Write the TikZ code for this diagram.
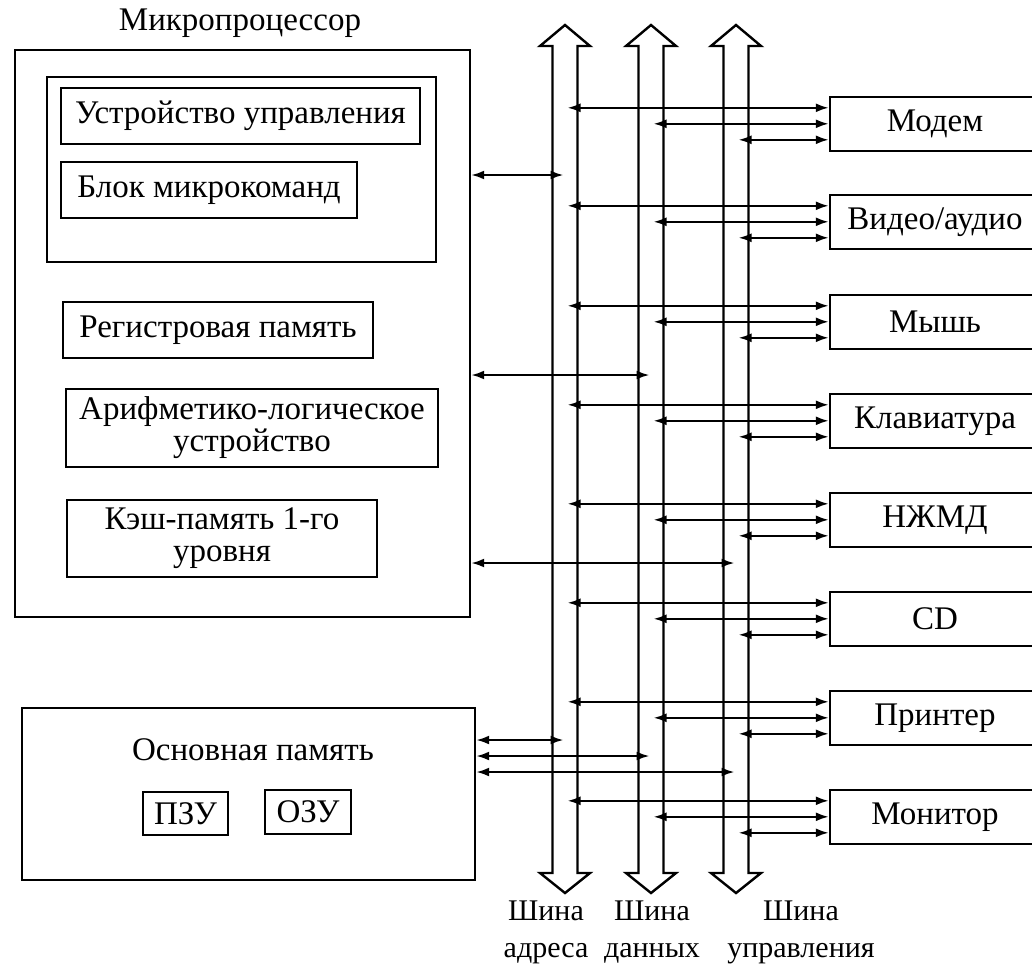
\documentclass[tikz,border=0pt]{standalone}
\usepackage{fontspec}
\setmainfont{Liberation Serif}
\usetikzlibrary{arrows.meta}
\newcommand\fsz{\fontsize{33}{32}\selectfont}
\newcommand\fsl{\fontsize{30}{37}\selectfont}
\tikzset{
  blk/.style={draw, line width=2.4pt, inner sep=0pt, align=center, font=\fsz},
  bi/.style={{Latex[length=13pt,width=9pt]}-{Latex[length=13pt,width=9pt]}, line width=2.2pt},
  busshape/.style={draw, line width=2.4pt, fill=white, line join=miter},
  lbl/.style={font=\fsl, inner sep=0pt, align=center},
  ttl/.style={font=\fsz, inner sep=0pt}
}
\begin{document}
\begin{tikzpicture}[x=1pt, y=-1pt]
\fill[white] (0,0) rectangle (1032,964);
\clip (0,0) rectangle (1032,964);

% Microprocessor
\node[ttl] (cputitle) at (240,23) {Микропроцессор};
\node[blk, minimum width=455pt, minimum height=567pt] (cpu) at (242.5,333.5) {};
\node[blk, minimum width=389pt, minimum height=185pt] (cu) at (241.5,169.5) {};
\node[blk, minimum width=359pt, minimum height=56pt] (ustr) at (240.5,116) {Устройство управления};
\node[blk, minimum width=296pt, minimum height=56pt] (blok) at (209,190) {Блок микрокоманд};
\node[blk, minimum width=310pt, minimum height=56pt] (reg) at (218,330) {Регистровая память};
\node[blk, minimum width=372pt, minimum height=78pt] (alu) at (252,428) {Арифметико-логическое\\устройство};
\node[blk, minimum width=310pt, minimum height=77pt] (cache) at (222,538.5) {Кэш-память 1-го\\уровня};

% Main memory
\node[blk, minimum width=453pt, minimum height=172pt] (mem) at (248.5,794) {};
\node[ttl] (memtitle) at (253,750) {Основная память};
\node[blk, minimum width=85pt, minimum height=43pt] (pzu) at (185.5,813.5) {ПЗУ};
\node[blk, minimum width=86pt, minimum height=44pt] (ozu) at (308,812) {ОЗУ};

% Buses
\foreach \c/\nm in {565/bus1,651/bus2,736/bus3}{
  \draw[busshape] (\c,25) -- (\c+25,46) -- (\c+12.5,46) -- (\c+12.5,873) -- (\c+25,873)
    -- (\c,893) -- (\c-25,873) -- (\c-12.5,873) -- (\c-12.5,46) -- (\c-25,46) -- cycle;
  \coordinate (\nm) at (\c,459);
}
\node[lbl] (lab1) at (546,932) {Шина\\адреса};
\node[lbl] (lab2) at (652,932) {Шина\\данных};
\node[lbl] (lab3) at (801,932) {Шина\\управления};

% bus tip coordinates
\coordinate (b1p) at (563.5,0);
\coordinate (b2p) at (649.5,0);
\coordinate (b3p) at (734.5,0);
\coordinate (b1d) at (567.5,0);
\coordinate (b2d) at (653.5,0);
\coordinate (b3d) at (738.5,0);

% Devices
\foreach \n/\t/\y in {modem/Модем/124, video/{Видео/аудио}/222, mouse/Мышь/322,
  kbd/Клавиатура/421, hdd/НЖМД/520, cdrom/CD/619, printer/Принтер/718, monitor/Монитор/817}{
  \node[blk, minimum width=210pt, minimum height=54pt] (\n) at (935,\y) {\t};
  \coordinate (\n-a) at ([yshift=-12pt]\n.north west);
  \coordinate (\n-b) at ([yshift=-28pt]\n.north west);
  \coordinate (\n-c) at ([yshift=-44pt]\n.north west);
  \draw[bi] (\n-a) -- (b1d |- \n-a);
  \draw[bi] (\n-b) -- (b2d |- \n-b);
  \draw[bi] (\n-c) -- (b3d |- \n-c);
}

% CPU links
\coordinate (cpu-a) at (cpu.east |- 0,175);
\coordinate (cpu-b) at (cpu.east |- 0,375);
\coordinate (cpu-c) at (cpu.east |- 0,563);
\draw[bi] (cpu-a) -- (b1p |- cpu-a);
\draw[bi] (cpu-b) -- (b2p |- cpu-b);
\draw[bi] (cpu-c) -- (b3p |- cpu-c);

% Memory links
\coordinate (mem-a) at (mem.east |- 0,740);
\coordinate (mem-b) at (mem.east |- 0,756);
\coordinate (mem-c) at (mem.east |- 0,772);
\draw[bi] (mem-a) -- (b1p |- mem-a);
\draw[bi] (mem-b) -- (b2p |- mem-b);
\draw[bi] (mem-c) -- (b3p |- mem-c);
\end{tikzpicture}
\end{document}
